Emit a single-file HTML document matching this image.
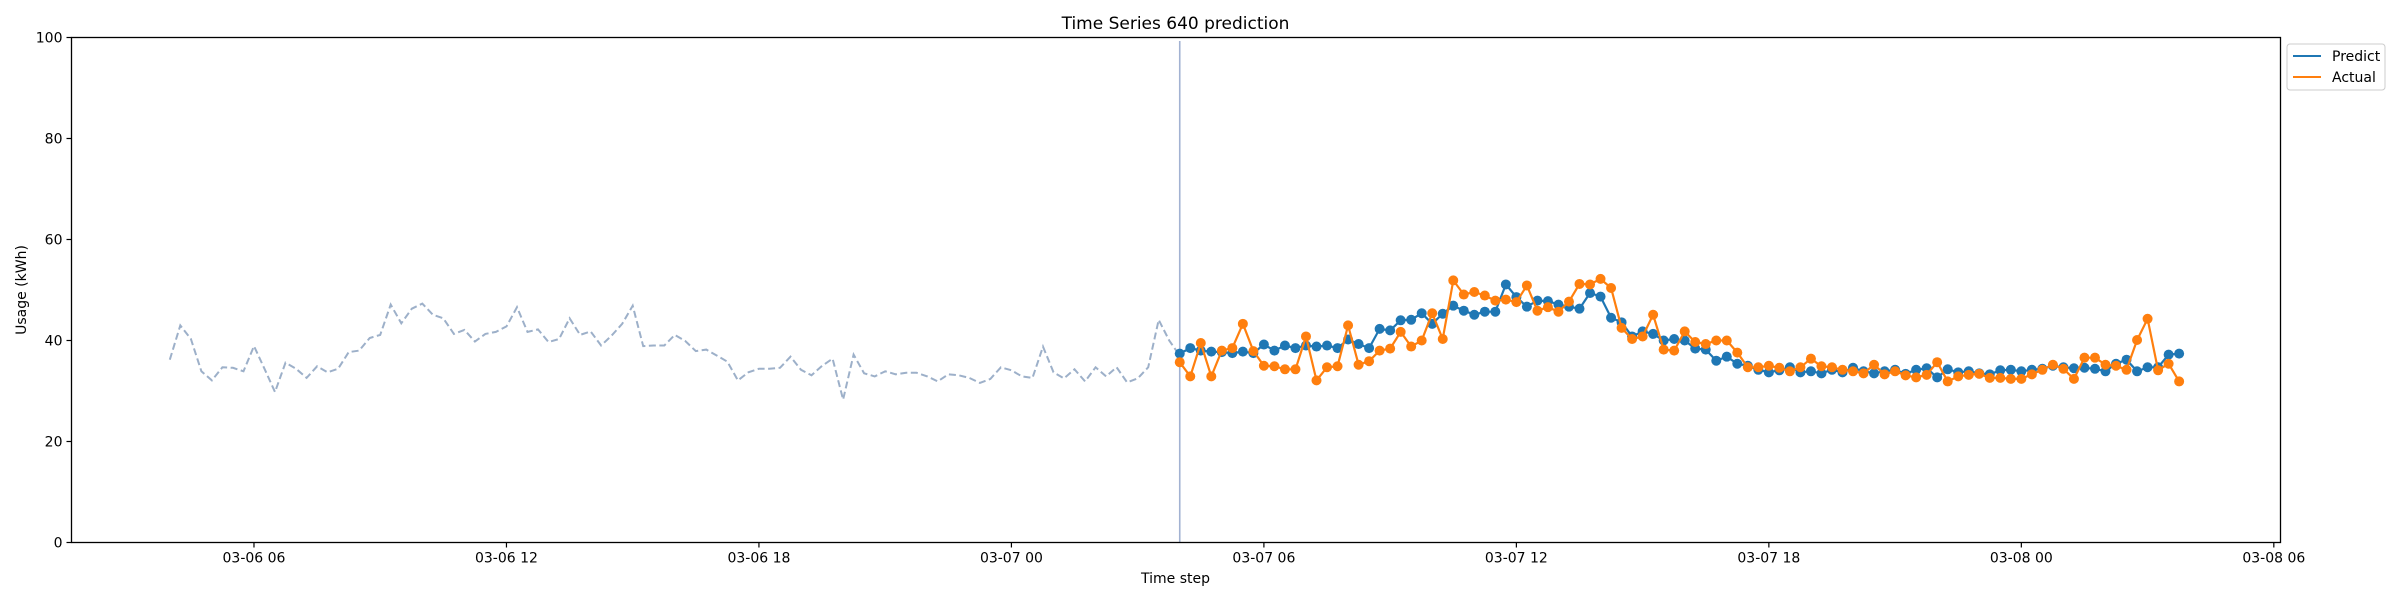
<!DOCTYPE html>
<html><head><meta charset="utf-8"><style>
html,body{margin:0;padding:0;background:#fff;}
svg{display:block;font-family:"DejaVu Sans","Liberation Sans",sans-serif;}
</style></head><body>
<svg id="chart" width="2400" height="600" viewBox="0 0 2400 600" xmlns="http://www.w3.org/2000/svg">
<rect width="2400" height="600" fill="#fff"/>
<text x="1175.5" y="29" font-size="17" text-anchor="middle" fill="#000">Time Series 640 prediction</text>
<g id="grid"></g>
<g id="marks"></g>
<rect x="71.5" y="37.5" width="2209" height="505" fill="none" stroke="#000" stroke-width="1.3"/>
<g id="axes"></g>
<text x="1175.5" y="583" font-size="14" text-anchor="middle">Time step</text>
<text transform="translate(26,290) rotate(-90)" font-size="14" text-anchor="middle">Usage (kWh)</text>
<g>
<rect x="2287" y="44" width="98" height="46" rx="3" fill="#fff" stroke="#ccc" stroke-width="1"/>
<line x1="2293" y1="56" x2="2321" y2="56" stroke="#1f77b4" stroke-width="2"/>
<text x="2332" y="61" font-size="14">Predict</text>
<line x1="2293" y1="77" x2="2321" y2="77" stroke="#ff7f0e" stroke-width="2"/>
<text x="2332" y="82" font-size="14">Actual</text>
</g>
</svg>
<script>
const historyStartHour = 4;
const forecastStartHour = 28;
const stepHours = 0.25;
const historyValues = [36.2,43.0,40.3,33.9,32.1,34.7,34.6,33.9,38.9,34.4,29.8,35.6,34.4,32.6,34.9,33.7,34.4,37.7,38.0,40.5,41.1,47.1,43.4,46.3,47.3,45.1,44.4,41.3,42.1,39.8,41.3,41.7,42.8,46.6,41.7,42.2,39.7,40.3,44.4,41.1,41.8,39.0,41.0,43.3,46.9,38.9,39.0,39.0,41.1,39.9,37.9,38.2,37.0,35.8,32.1,33.7,34.4,34.4,34.6,36.8,34.2,33.1,35.0,36.4,28.3,37.2,33.5,32.9,33.9,33.3,33.6,33.6,32.9,31.9,33.3,33.1,32.6,31.6,32.4,34.7,34.1,32.9,32.6,38.8,33.7,32.5,34.3,31.9,34.7,32.9,34.7,31.7,32.5,34.7,44.1,40.0,37.0];
const predictValues = [37.4,38.5,38.0,37.8,37.7,37.5,37.8,37.5,39.2,38.0,39.0,38.5,39.0,38.8,39.0,38.5,40.2,39.3,38.5,42.3,42.0,44.0,44.1,45.4,43.3,45.3,46.9,45.9,45.1,45.7,45.7,51.1,48.6,46.7,47.9,47.8,47.1,46.7,46.3,49.4,48.7,44.5,43.6,40.8,41.8,41.3,40.0,40.3,40.0,38.4,38.2,36.0,36.8,35.4,35.0,34.2,33.7,34.1,34.7,33.7,33.9,33.5,34.2,33.7,34.6,33.9,33.5,33.9,34.2,33.4,34.2,34.5,32.7,34.3,33.7,33.9,33.5,33.3,34.1,34.2,33.9,34.2,34.4,35.0,34.7,34.5,34.6,34.4,33.9,35.4,36.2,33.9,34.7,34.7,37.2,37.4];
const actualValues = [35.7,32.9,39.5,32.9,38.0,38.5,43.3,37.9,35.0,34.9,34.3,34.3,40.8,32.1,34.7,34.9,43.0,35.2,35.9,38.0,38.4,41.7,38.8,40.0,45.4,40.3,51.9,49.1,49.6,48.9,47.9,48.1,47.6,50.9,45.9,46.6,45.7,47.7,51.2,51.1,52.2,50.4,42.5,40.3,40.8,45.1,38.2,38.0,41.8,39.7,39.3,40.0,40.0,37.6,34.7,34.7,35.0,34.6,33.9,34.7,36.4,34.9,34.7,34.2,33.9,33.5,35.2,33.3,33.9,33.1,32.7,33.2,35.7,31.9,32.9,33.2,33.4,32.6,32.6,32.4,32.4,33.3,34.2,35.2,34.4,32.4,36.6,36.6,35.2,35.0,34.2,40.1,44.3,34.1,35.4,31.9];
const yTicks = [0,20,40,60,80,100];
const xTickHours = [6,12,18,24,30,36,42,48,54];
const xTickLabels = ["03-06 06","03-06 12","03-06 18","03-07 00","03-07 06","03-07 12","03-07 18","03-08 00","03-08 06"];

const NS = "http://www.w3.org/2000/svg";
const X0 = 71.5, X1 = 2280.5, Y0 = 542.5, Y1 = 37.5;
const xScale = h => 1.5 + h * 42.08;
const yScale = v => Y0 - (v / 100) * (Y0 - Y1);
function mk(tag, attrs, parent) {
  const e = document.createElementNS(NS, tag);
  for (const k in attrs) e.setAttribute(k, attrs[k]);
  parent.appendChild(e);
  return e;
}
const axes = document.getElementById('axes');
const marks = document.getElementById('marks');

yTicks.forEach(v => {
  const y = yScale(v);
  const t = mk('line', {x1: X0 - 5, x2: X0, y1: y, y2: y, stroke: '#000', 'stroke-width': 1.2}, axes);
  
  
  const l = mk('text', {x: X0 - 9, y: y + 5, 'font-size': 14, 'text-anchor': 'end'}, axes);
  l.textContent = v;
  
  
});
xTickHours.forEach((h, i) => {
  const x = xScale(h);
  const t = mk('line', {x1: x, x2: x, y1: Y0, y2: Y0 + 5, stroke: '#000', 'stroke-width': 1.2}, axes);
  
  
  const l = mk('text', {x: x, y: Y0 + 20, 'font-size': 14, 'text-anchor': 'middle'}, axes);
  l.textContent = xTickLabels[i];
  
  
});

const hp = historyValues.map((v, i) => xScale(historyStartHour + i * stepHours).toFixed(1) + ',' + yScale(v).toFixed(1)).join(' ');
const hl = mk('polyline', {points: hp, fill: 'none', stroke: '#9db0c9', 'stroke-width': 2, 'stroke-dasharray': '7,3.5'}, marks);



const vx = xScale(forecastStartHour);
const vl = mk('line', {x1: vx, x2: vx, y1: 41, y2: Y0, stroke: '#a2b2d2', 'stroke-width': 1.6}, marks);



function series(vals, color, name) {
  const pts = vals.map((v, i) => xScale(forecastStartHour + i * stepHours).toFixed(1) + ',' + yScale(v).toFixed(1)).join(' ');
  const pl = mk('polyline', {points: pts, fill: 'none', stroke: color, 'stroke-width': 2.2}, marks);
  
  
  vals.forEach((v, i) => {
    const c = mk('circle', {cx: xScale(forecastStartHour + i * stepHours), cy: yScale(v), r: 5, fill: color}, marks);
    
    
  });
}
series(predictValues, '#1f77b4', 'predict');
series(actualValues, '#ff7f0e', 'actual');
</script>
</body></html>
